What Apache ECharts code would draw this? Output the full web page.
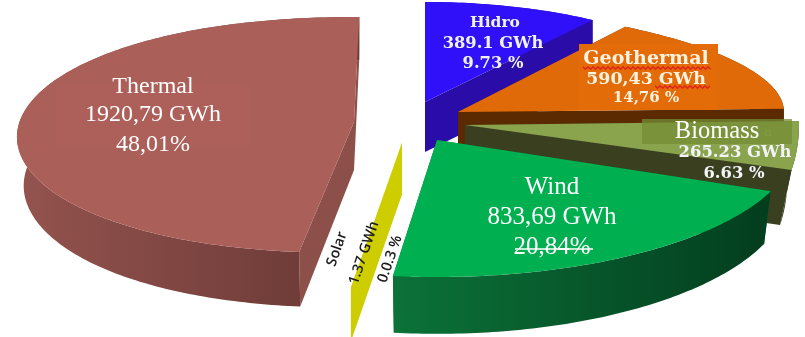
<!DOCTYPE html>
<html>
<head>
<meta charset="utf-8">
<style>html,body{margin:0;padding:0;background:#fff}#chart{width:805px;height:337px}</style>
<script src="https://cdn.jsdelivr.net/npm/echarts@6/dist/echarts.min.js"></script>
</head>
<body>
<div id="chart"></div>
<script>
// Electricity production by source, drawn as an exploded 3D pie.
var names = ['Thermal', 'Solar', 'Wind', 'Biomass', 'Geothermal', 'Hidro'];
var gwh = [1920.79, 1.37, 833.69, 265.23, 590.43, 389.1];
var gwhLabels = ['1920,79 GWh', '1.37 GWh', '833,69 GWh', '265.23 GWh', '590,43 GWh', '389.1 GWh'];
var shareLabels = ['48,01%', '0.0.3 %', '20,84%', '6.63 %', '14,76 %', '9.73 %'];

// Per-slice projection: apex after explosion, rim ellipse centre height and radii,
// extrusion depth, plus small perspective terms (shear, rim squareness, base shrink).
var sliceLayout = {
  Thermal:    {ax: 354, ay: 122, cy: 135, rx: 337, ry: 118, depth: 48, slope: 0.05, xPow: 0.92, lean: -0.045, dropX: 0.98,
               top: '#AB5F59', wall: '#8C4F4A', sideA: '#94534E', sideB: '#683834'},
  Solar:      {ax: 402, ay: 143, cy: 143, rx: 410, ry: 146, depth: 51, slope: 0, xPow: 1, lean: 0, dropX: 1,
               top: '#CDCD00', wall: '#CDCD00', sideA: '#CDCD00', sideB: '#CDCD00'},
  Wind:       {ax: 437, ay: 140, cy: 140, rx: 360, ry: 137, depth: 50, slope: 0.05, xPow: 1, lean: 0, dropX: 0.98,
               top: '#00AF50', wall: '#0A6E36', sideA: '#0B7238', sideB: '#033D1E'},
  Biomass:    {ax: 465, ay: 125, cy: 125, rx: 334, ry: 120, depth: 55, slope: 0, xPow: 0.3, lean: 0, dropX: 0.965,
               top: '#8AA44E', wall: '#3A3F20', sideA: '#3A3F20', sideB: '#333A1C'},
  Geothermal: {ax: 458, ay: 112, cy: 112, rx: 326, ry: 104, depth: 40, slope: 0, xPow: 1.2, lean: 0, dropX: 1,
               top: '#E16A08', wall: '#5C2A00', sideA: '#5C2A00', sideB: '#5C2A00'},
  Hidro:      {ax: 425, ay: 102, cy: 102, rx: 292, ry: 100, depth: 50, slope: 0, xPow: 1, lean: 0, dropX: 1,
               top: '#3010F8', wall: '#2A0DA8', sideA: '#2A0DA8', sideB: '#2A0DA8'}
};

// Back-to-front paint order.
var paintOrder = ['Hidro', 'Geothermal', 'Biomass', 'Wind', 'Thermal', 'Solar'];

// Slice sweeps run counter-clockwise from twelve o'clock.
var total = gwh.reduce(function (a, b) { return a + b; }, 0);
var sweeps = {};
var running = 0;
names.forEach(function (n, i) {
  var start = running / total * Math.PI * 2;
  running += gwh[i];
  sweeps[n] = [start, running / total * Math.PI * 2];
});

function rimPoint(l, t) {
  var s = Math.sin(t), c = Math.cos(t);
  var y = l.cy - l.ry * c;
  return [
    l.ax - l.rx * (s < 0 ? -1 : 1) * Math.pow(Math.abs(s), l.xPow) + l.lean * (y - l.cy),
    y
  ];
}
function drop(l, p) {
  return [l.ax + (p[0] - l.ax) * l.dropX, p[1] + l.depth + l.slope * (p[1] - l.ay)];
}
function poly(points, fill, z2) {
  return {type: 'polygon', z2: z2, shape: {points: points}, style: {fill: fill, stroke: null}};
}

function renderSlice(params) {
  var name = paintOrder[params.dataIndex];
  var l = sliceLayout[name], sw = sweeps[name];
  var steps = Math.max(2, Math.ceil((sw[1] - sw[0]) * 60));
  var rim = [];
  for (var i = 0; i <= steps; i++) rim.push(rimPoint(l, sw[0] + (sw[1] - sw[0]) * i / steps));
  var apex = [l.ax, l.ay], first = rim[0], last = rim[rim.length - 1];
  var sideGrad = {type: 'linear', x: 0, y: 0, x2: 1, y2: 0,
    colorStops: [{offset: 0, color: l.sideA}, {offset: 1, color: l.sideB}]};
  return {
    type: 'group',
    children: [
      poly([apex, first, drop(l, first), drop(l, apex)], l.wall, 1),
      poly([apex, last, drop(l, last), drop(l, apex)], l.wall, 1),
      poly(rim.concat(rim.map(function (p) { return drop(l, p); }).reverse()), sideGrad, 2),
      poly([apex].concat(rim), l.top, 3)
    ]
  };
}

function line(text, x, y, font, fill, extra) {
  return {
    type: 'text', x: x, y: y, rotation: (extra && extra.rotation) || 0,
    style: Object.assign({text: text, font: font, fill: fill, align: 'center', verticalAlign: 'middle'},
      extra && extra.style)
  };
}
function squiggle(x0, x1, y) {
  var pts = [];
  for (var x = x0, k = 0; x <= x1; x += 2.5, k++) pts.push([x, y + (k % 2 ? 1.3 : -1.3)]);
  return {type: 'polyline', shape: {points: pts}, style: {stroke: '#E0241C', lineWidth: 1.3, fill: null}};
}

function serif(px) { return px + 'px "Liberation Serif"'; }
function boldSerif(px) { return 'bold ' + px + 'px "DejaVu Serif"'; }
var sans = '600 14.5px "Open Sans"';

function idx(n) { return names.indexOf(n); }

function renderLabels() {
  var t = idx('Thermal'), w = idx('Wind'), h = idx('Hidro'), g = idx('Geothermal'), b = idx('Biomass'), s = idx('Solar');
  var tilt = 71 * Math.PI / 180;
  var glow = {style: {textShadowColor: 'rgba(30,30,160,0.7)', textShadowBlur: 2}};
  return {
    type: 'group',
    children: [
      // Text boxes sitting behind the captions
      {type: 'rect', shape: {x: 57, y: 83, width: 193, height: 63}, style: {fill: 'rgba(190,110,100,0.10)'}},
      {type: 'rect', shape: {x: 579, y: 44, width: 139, height: 66}, style: {fill: '#E36C09'}},
      line('a', 768, 133, '13px "DejaVu Serif"', 'rgba(255,255,255,0.25)'),
      {type: 'rect', shape: {x: 642, y: 119, width: 150, height: 25}, style: {fill: 'rgba(116,142,52,0.75)'}},

      line(names[t], 153, 87, serif(24), '#fff'),
      line(gwhLabels[t], 153, 115, serif(24), '#fff'),
      line(shareLabels[t], 153, 145, serif(24), '#fff'),

      line(names[w], 552, 187, serif(25), '#fff'),
      line(gwhLabels[w], 552, 217, serif(25), '#fff'),
      line(shareLabels[w], 552, 247, serif(25), '#fff'),
      {type: 'line', shape: {x1: 515, y1: 249, x2: 593, y2: 249}, style: {stroke: '#fff', lineWidth: 1.4}},

      line(names[h], 495, 23, boldSerif(15.5), '#F2F0FF', glow),
      line(gwhLabels[h], 493, 44, boldSerif(16.3), '#F2F0FF', glow),
      line(shareLabels[h], 493, 64, boldSerif(16.3), '#F2F0FF', glow),

      line(names[g], 646, 59, boldSerif(19), '#FFF3E0'),
      line(gwhLabels[g], 646, 79, boldSerif(17.4), '#FFF3E0'),
      line(shareLabels[g], 646, 98, boldSerif(15), '#FFF3E0'),
      squiggle(583, 712, 68),
      squiggle(655, 711, 87),

      line(names[b], 717, 132, serif(24.5), '#fff'),
      line(gwhLabels[b], 735, 153, boldSerif(16.4), '#F2F4F8'),
      line(shareLabels[b], 734, 174, boldSerif(16.4), '#F2F4F8'),

      line(names[s], 337, 249, sans, '#1c1c1c', {rotation: tilt}),
      line(gwhLabels[s], 364, 253, sans, '#1c1c1c', {rotation: tilt}),
      line(shareLabels[s], 390, 259, sans, '#1c1c1c', {rotation: tilt})
    ]
  };
}

var chart = echarts.init(document.getElementById('chart'), null, {renderer: 'canvas'});
chart.setOption({
  animation: false,
  backgroundColor: '#fff',
  series: [
    {
      type: 'custom', coordinateSystem: 'none', z: 2, silent: true,
      data: paintOrder.map(function (n) { return gwh[names.indexOf(n)]; }),
      renderItem: renderSlice
    },
    {
      type: 'custom', coordinateSystem: 'none', z: 3, silent: true,
      data: [0],
      renderItem: renderLabels
    }
  ]
});
</script>
</body>
</html>
